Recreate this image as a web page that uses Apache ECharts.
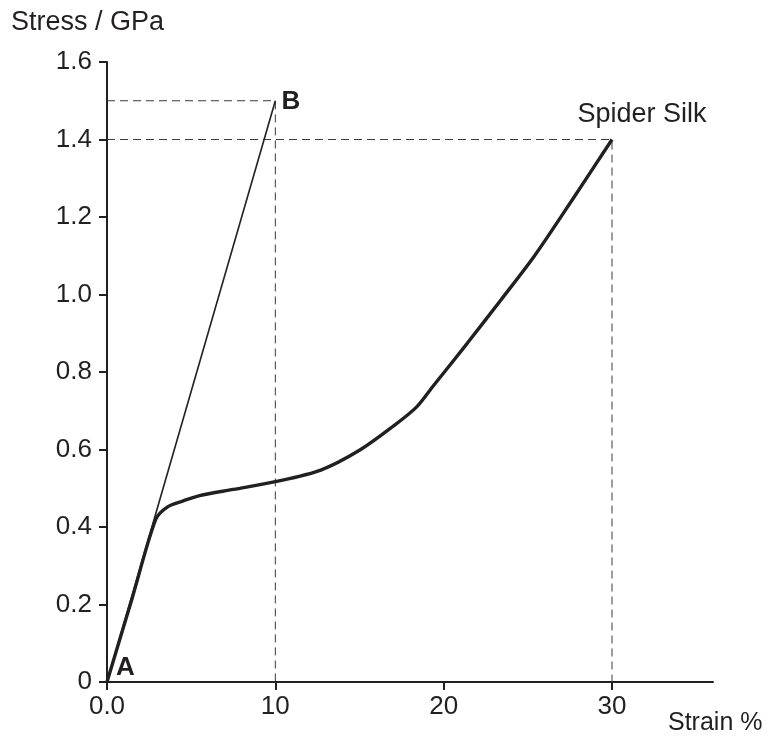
<!DOCTYPE html>
<html>
<head>
<meta charset="utf-8">
<title>Stress strain - spider silk</title>
<script src="https://cdn.jsdelivr.net/npm/echarts@6/dist/echarts.min.js"></script>
<style>
  html, body { margin: 0; padding: 0; background: #fff; }
  #chart { width: 781px; height: 740px; }
</style>
</head>
<body>
<div id="chart"></div>
<script>
// tick positions and labels as printed
const xTicks = [0, 10, 20, 30];
const xTickLabels = ['0.0', '10', '20', '30'];
const yTicks = [0, 0.2, 0.4, 0.6, 0.8, 1.0, 1.2, 1.4, 1.6];
const yTickLabels = ['0', '0.2', '0.4', '0.6', '0.8', '1.0', '1.2', '1.4', '1.6'];

// straight line A -> B  [strain %, stress GPa]
const lineAB = [[0, 0], [10, 1.5]];

// spider silk curve
const silk = [
  [0, 0], [1.5, 0.217], [2.9, 0.42], [3.6, 0.452], [4.5, 0.467], [5.5, 0.481], [7.5, 0.497],
  [10, 0.517], [12.7, 0.547], [15, 0.598], [17, 0.66], [18.4, 0.71],
  [19.4, 0.765], [21.4, 0.874], [23.4, 0.986], [25.4, 1.1], [27.8, 1.255], [30, 1.4]
];

const ink = '#231f20';
const font = 'Liberation Sans';

const chart = echarts.init(document.getElementById('chart'), null, { renderer: 'canvas' });

// dashed guides from the two end points back to the axes
function guide(pt) {
  return [[0, pt[1]], pt, [pt[0], 0]];
}
const bEnd = lineAB[lineAB.length - 1];
const silkEnd = silk[silk.length - 1];

const dashStyle = { color: '#3a3a3a', width: 1, type: [8, 5] };

chart.setOption({
  animation: false,
  textStyle: { fontFamily: font, color: ink },
  grid: { left: 107, right: 68, top: 62, bottom: 58 },
  xAxis: {
    type: 'value',
    min: 0,
    max: 36,
    axisLine: { lineStyle: { color: ink, width: 2 } },
    axisTick: { show: true, length: 8, lineStyle: { color: ink, width: 2 }, customValues: xTicks },
    axisLabel: {
      customValues: xTicks,
      margin: 12,
      fontSize: 26,
      color: ink,
      fontFamily: font,
      formatter: (v) => xTickLabels[xTicks.indexOf(v)] || ''
    },
    splitLine: { show: false }
  },
  yAxis: {
    type: 'value',
    min: 0,
    max: 1.6,
    axisLine: { show: true, lineStyle: { color: ink, width: 2 } },
    axisTick: { show: true, length: 8, lineStyle: { color: ink, width: 2 }, customValues: yTicks },
    axisLabel: {
      customValues: yTicks,
      margin: 15,
      fontSize: 26,
      color: ink,
      fontFamily: font,
      formatter: (v) => {
        const i = yTicks.findIndex((t) => Math.abs(t - v) < 1e-6);
        return i >= 0 ? yTickLabels[i] : '';
      }
    },
    splitLine: { show: false }
  },
  graphic: [
    {
      type: 'text', left: 11, top: 9,
      style: { text: 'Stress / GPa', fontSize: 27, fontFamily: font, fill: ink }
    },
    {
      type: 'text', left: 668, top: 711,
      style: { text: 'Strain %', fontSize: 25, fontFamily: font, fill: ink }
    }
  ],
  series: [
    {
      type: 'line', data: guide(bEnd), symbol: 'none', silent: true, z: 1,
      lineStyle: dashStyle
    },
    {
      type: 'line', data: guide(silkEnd), symbol: 'none', silent: true, z: 1,
      lineStyle: dashStyle
    },
    {
      name: 'A-B',
      type: 'line',
      data: [
        { value: lineAB[0], label: { show: true, position: 'right', distance: 9, offset: [0, -14], formatter: 'A' } },
        { value: lineAB[1], label: { show: true, position: 'right', distance: 6, offset: [0, 1], formatter: 'B' } }
      ],
      symbol: 'circle', symbolSize: 0.1,
      showSymbol: true,
      z: 3,
      lineStyle: { color: ink, width: 1.6 },
      itemStyle: { color: ink },
      label: { fontSize: 26, fontWeight: 'bold', color: ink, fontFamily: font }
    },
    {
      name: 'Spider Silk',
      type: 'line',
      data: silk.map((p, i) => i === silk.length - 1
        ? { value: p, label: { show: true, position: 'top', distance: 11, offset: [30, 0], formatter: 'Spider Silk' } }
        : p),
      smooth: 0.3,
      symbol: 'circle', symbolSize: 0.1,
      z: 4,
      lineStyle: { color: ink, width: 3.4 },
      itemStyle: { color: ink },
      label: { fontSize: 27, color: ink, fontFamily: font }
    }
  ]
});
</script>
</body>
</html>
